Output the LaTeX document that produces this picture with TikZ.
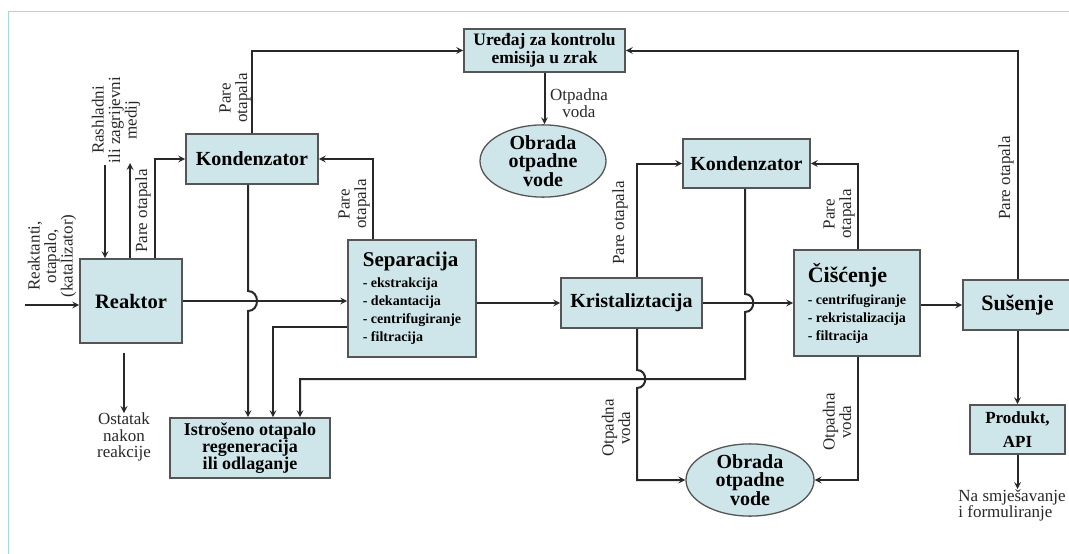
\documentclass[tikz,border=0pt]{standalone}
\usepackage{fontspec}
\setmainfont{Liberation Serif}
\usepackage{tikz}
\usetikzlibrary{shapes.geometric, arrows, positioning, calc}
\definecolor{boxfill}{RGB}{206,230,234}
\definecolor{boxline}{RGB}{85,85,85}
\definecolor{linecol}{RGB}{40,40,40}
\definecolor{framecol}{RGB}{165,215,225}
\tikzstyle{box} = [rectangle, draw=boxline, fill=boxfill, line width=1.6pt, align=center, inner sep=2pt]
\tikzstyle{blob} = [ellipse, draw=boxline, fill=boxfill, line width=1.3pt, align=center, inner sep=0pt, minimum width=126pt, minimum height=64pt, font=\fontsize{20}{18.5}\selectfont\bfseries]
\tikzstyle{lbl} = [align=center, inner sep=0pt, text=linecol, font=\fontsize{17}{16.5}\selectfont]
\tikzstyle{vlbl} = [lbl, rotate=90]
\tikzstyle{arrow} = [line width=2pt, draw=linecol, ->, >=stealth]
\begin{document}
\begin{tikzpicture}[x=1pt, y=-1pt]
    \useasboundingbox (0,0) rectangle (1069,554);
    \draw[framecol, line width=1pt] (8,600) -- (8,11) -- (1100,11);

    % process boxes
    \node (reaktor) [box, minimum width=102pt, minimum height=84pt, font=\fontsize{20.5}{22}\selectfont\bfseries] at (131,301) {Reaktor};
    \node (kondL) [box, minimum width=132pt, minimum height=50pt, font=\fontsize{20}{22}\selectfont\bfseries] at (252,159) {Kondenzator};
    \node (emis) [box, minimum width=161pt, minimum height=43pt, font=\fontsize{17.5}{18}\selectfont\bfseries] at (544.5,50.5) {Uređaj za kontrolu\\emisija u zrak};
    \node (obradaT) [blob] at (543,161) {Obrada\\otpadne\\vode};
    \node (sep) [box, align=left, minimum width=128pt, minimum height=117pt, font=\fontsize{14}{18}\selectfont\bfseries] at (412,298.5) {{\fontsize{21}{21}\selectfont Separacija}\\[3pt]- ekstrakcija\\- dekantacija\\- centrifugiranje\\- filtracija};
    \node (krist) [box, minimum width=141pt, minimum height=50pt, font=\fontsize{20}{22}\selectfont\bfseries] at (631.5,303) {Kristaliztacija};
    \node (kondR) [box, minimum width=127pt, minimum height=49pt, font=\fontsize{20}{22}\selectfont\bfseries] at (746.5,163.5) {Kondenzator};
    \node (cisc) [box, align=left, minimum width=126pt, minimum height=106pt, font=\fontsize{14}{18}\selectfont\bfseries] at (857,303) {{\fontsize{22}{22}\selectfont Čišćenje}\\[4pt]- centrifugiranje\\- rekristalizacija\\- filtracija};
    \node (susenje) [box, minimum width=109pt, minimum height=50pt, font=\fontsize{22}{22}\selectfont\bfseries] at (1017.5,305) {Sušenje};
    \node (produkt) [box, minimum width=95pt, minimum height=49pt, font=\fontsize{17}{24}\selectfont\bfseries] at (1017.5,429.5) {Produkt,\\API};
    \node (istros) [box, minimum width=160pt, minimum height=60pt, font=\fontsize{18}{17}\selectfont\bfseries] at (250,448) {Istrošeno otapalo\\regeneracija\\ili odlaganje};
    \node (obradaB) [blob, minimum width=128pt, minimum height=66pt] at (750,480) {Obrada\\otpadne\\vode};

    % free texts
    \node (ostatak) [lbl, anchor=north] at (124,413) {Ostatak\\nakon\\reakcije};
    \node (smjes) [lbl, align=left, anchor=north] at (1012,489) {Na smješavanje\\i formuliranje};
    \node (lblIn) [vlbl] at (52,256) {Reaktanti,\\otapalo,\\(katalizator)};
    \node (lblMed) [vlbl] at (116,120) {Rashladni\\ili zagrijevni\\medij};
    \node (lblP1) [vlbl] at (143,211) {Pare otapala};
    \node (lblP2) [vlbl] at (235,98) {Pare\\otapala};
    \node (lblP3) [vlbl] at (354,204) {Pare\\otapala};
    \node (lblW1) [lbl] at (579,103) {Otpadna\\voda};
    \node (lblP4) [vlbl] at (620,223) {Pare otapala};
    \node (lblP5) [vlbl] at (839,214) {Pare\\otapala};
    \node (lblP6) [vlbl] at (1006,178) {Pare otapala};
    \node (lblW2) [vlbl] at (616,428) {Otpadna\\voda};
    \node (lblW3) [vlbl] at (837,422) {Otpadna\\voda};

    % line crossings
    \coordinate (feed) at (25,305);
    \coordinate (medIn) at (105,165);
    \coordinate (medOut) at (130,163);
    \coordinate (jL) at (248,301);
    \coordinate (jR) at (745,303);
    \coordinate (jK) at (637,379);

    \draw[arrow] (feed) -- (feed -| reaktor.west);
    \draw[arrow] (medIn) -- (medIn |- reaktor.north);
    \draw[arrow] (medOut |- reaktor.north) -- (medOut);
    \draw[arrow] ([xshift=24pt]reaktor.north) |- (kondL.west);
    \draw[arrow] (kondL.north) |- (emis.west);
    \draw[arrow] ([xshift=-39pt]sep.north) |- (kondL.east);
    \draw[arrow] (emis.south) -- (emis.south |- obradaT.north);
    \draw[arrow] (reaktor.east) -- (reaktor.east -| sep.west);
    \draw[arrow] ([yshift=-9pt]reaktor.south -| ostatak.north) -- (ostatak.north);
    \draw[arrow] (kondL.south -| jL) -- ($(jL)+(0,-10)$) .. controls +(12,0) and +(12,0) .. ($(jL)+(0,10)$) -- (jL |- istros.north);
    \draw[arrow] ([yshift=-28.5pt]sep.west) -| ([xshift=23pt]istros.north);
    \draw[arrow] (kondR.south -| jR) -- ($(jR)+(0,-9)$) .. controls +(11,0) and +(11,0) .. ($(jR)+(0,9)$) -- (jR |- jK) -| ([xshift=50pt]istros.north);
    \draw[arrow] (sep.east |- krist.west) -- (krist.west);
    \draw[arrow] (krist.north -| jK) |- (kondR.west);
    \draw[arrow] (krist.east) -- (krist.east -| cisc.west);
    \draw[arrow] (krist.south -| jK) -- ($(jK)+(0,-9)$) .. controls +(11,0) and +(11,0) .. ($(jK)+(0,9)$) |- (obradaB.west);
    \draw[arrow] ([xshift=1pt]cisc.north) |- (kondR.east);
    \draw[arrow] ([xshift=1pt]cisc.south) |- (obradaB.east);
    \draw[arrow] (cisc.east |- susenje.west) -- (susenje.west);
    \draw[arrow] (susenje.north) |- (emis.east);
    \draw[arrow] (susenje.south) -- (produkt.north);
    \draw[arrow] (produkt.south) -- (produkt.south |- smjes.north);
  \end{tikzpicture}
\end{document}
